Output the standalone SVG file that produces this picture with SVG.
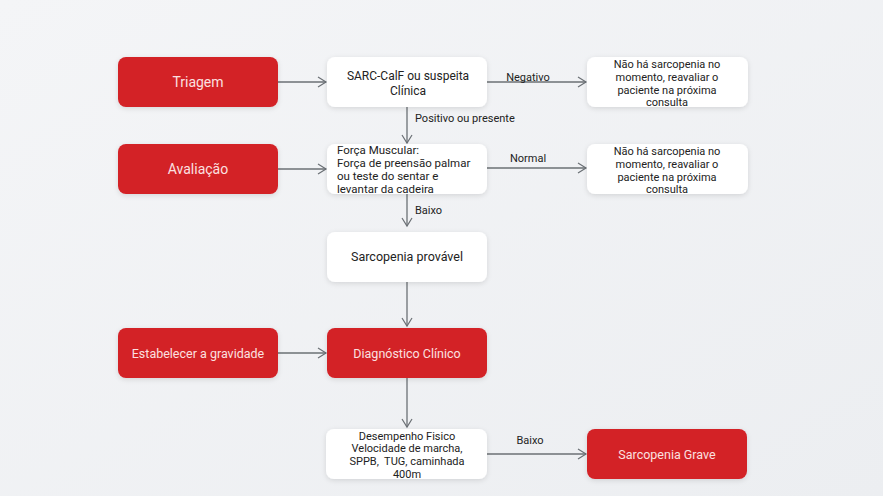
<svg xmlns="http://www.w3.org/2000/svg" width="883" height="496" viewBox="0 0 883 496">
<defs>
<linearGradient id="bg" x1="0" y1="0" x2="1" y2="1">
<stop offset="0" stop-color="#f4f5f7"/>
<stop offset="1" stop-color="#eceef1"/>
</linearGradient>
<filter id="sh" x="-10%" y="-20%" width="120%" height="150%">
<feDropShadow dx="0" dy="1.5" stdDeviation="2.5" flood-color="#000" flood-opacity="0.12"/>
</filter>
<marker id="ah" markerWidth="12" markerHeight="12" refX="10" refY="6" orient="auto" markerUnits="userSpaceOnUse">
<path d="M2,1 L10,6 L2,11" fill="none" stroke="#6b7075" stroke-width="1.2"/>
</marker>
<style>
.red{fill:#d32127;}
.wht{fill:#ffffff;}
.t{font-family:Roboto,"Liberation Sans",sans-serif;}
.rt{fill:#fbe0e0;font-size:14px;text-anchor:middle;}
.bt{fill:#222;text-anchor:middle;}
.lb{fill:#222;font-size:11px;}
.ln{stroke:#6b7075;stroke-width:1.3;fill:none;marker-end:url(#ah);}
</style>
</defs>
<rect width="883" height="496" fill="url(#bg)"/>
<g id="connectors">
<line class="ln" x1="278" y1="82" x2="326" y2="82"/>
<line class="ln" x1="487" y1="82" x2="586" y2="82"/>
<line class="ln" x1="407" y1="107" x2="407" y2="143"/>
<line class="ln" x1="278" y1="169" x2="326" y2="169"/>
<line class="ln" x1="487" y1="168" x2="586" y2="168"/>
<line class="ln" x1="407" y1="194" x2="407" y2="226"/>
<line class="ln" x1="407" y1="282" x2="407" y2="326"/>
<line class="ln" x1="278" y1="353" x2="326" y2="353"/>
<line class="ln" x1="407" y1="378" x2="407" y2="427"/>
<line class="ln" x1="487" y1="454" x2="586" y2="454"/>
<text class="t lb" x="528" y="81" text-anchor="middle">Negativo</text>
<text class="t lb" x="415" y="122">Positivo ou presente</text>
<text class="t lb" x="528" y="162" text-anchor="middle">Normal</text>
<text class="t lb" x="415" y="214">Baixo</text>
<text class="t lb" x="530" y="444" text-anchor="middle">Baixo</text>
</g>
<g id="triagem"><rect class="red" x="118" y="57" width="160" height="50" rx="8" filter="url(#sh)"/><text class="t rt" x="198" y="87">Triagem</text></g>
<g id="sarc"><rect class="wht" x="327" y="57" width="160" height="50" rx="8" filter="url(#sh)"/><text class="t bt" font-size="12" x="408" y="80">SARC-CalF ou suspeita</text><text class="t bt" font-size="12" x="408" y="95">Clínica</text></g>
<g id="nao1"><rect class="wht" x="587" y="57" width="161" height="50" rx="8" filter="url(#sh)"/><text class="t bt" font-size="11" x="667" y="68">Não há sarcopenia no</text><text class="t bt" font-size="11" x="667" y="81">momento, reavaliar o</text><text class="t bt" font-size="11" x="667" y="94">paciente na próxima</text><text class="t bt" font-size="11" x="667" y="106">consulta</text></g>
<g id="avaliacao"><rect class="red" x="118" y="144" width="160" height="50" rx="8" filter="url(#sh)"/><text class="t rt" x="198" y="174">Avaliação</text></g>
<g id="forca"><rect class="wht" x="327" y="144" width="160" height="50" rx="8" filter="url(#sh)"/>
<text class="t" fill="#222" font-size="11.5" x="337" y="154">Força Muscular:</text>
<text class="t" fill="#222" font-size="11.5" x="337" y="167">Força de preensão palmar</text>
<text class="t" fill="#222" font-size="11.5" x="337" y="180">ou teste do sentar e</text>
<text class="t" fill="#222" font-size="11.5" x="337" y="193">levantar da cadeira</text></g>
<g id="nao2"><rect class="wht" x="587" y="144" width="161" height="50" rx="8" filter="url(#sh)"/><text class="t bt" font-size="11" x="667" y="155">Não há sarcopenia no</text><text class="t bt" font-size="11" x="667" y="168">momento, reavaliar o</text><text class="t bt" font-size="11" x="667" y="181">paciente na próxima</text><text class="t bt" font-size="11" x="667" y="193">consulta</text></g>
<g id="provavel"><rect class="wht" x="327" y="232" width="160" height="50" rx="8" filter="url(#sh)"/><text class="t bt" font-size="12.5" x="407" y="261">Sarcopenia provável</text></g>
<g id="estabelecer"><rect class="red" x="118" y="328" width="160" height="50" rx="8" filter="url(#sh)"/><text class="t rt" style="font-size:12.5px" x="198" y="358">Estabelecer a gravidade</text></g>
<g id="diagnostico"><rect class="red" x="327" y="328" width="160" height="50" rx="8" filter="url(#sh)"/><text class="t rt" style="font-size:12.5px" x="407" y="358">Diagnóstico Clínico</text></g>
<g id="desempenho"><rect class="wht" x="326" y="429" width="161" height="50" rx="8" filter="url(#sh)"/>
<text class="t bt" font-size="11" x="407" y="440">Desempenho Fisico</text>
<text class="t bt" font-size="11" x="407" y="452">Velocidade de marcha,</text>
<text class="t bt" font-size="11" x="407" y="465" xml:space="preserve">SPPB,  TUG, caminhada</text>
<text class="t bt" font-size="11" x="407" y="478">400m</text></g>
<g id="grave"><rect class="red" x="587" y="429" width="160" height="50" rx="8" filter="url(#sh)"/><text class="t rt" style="font-size:12.5px" x="667" y="459">Sarcopenia Grave</text></g>
</svg>
